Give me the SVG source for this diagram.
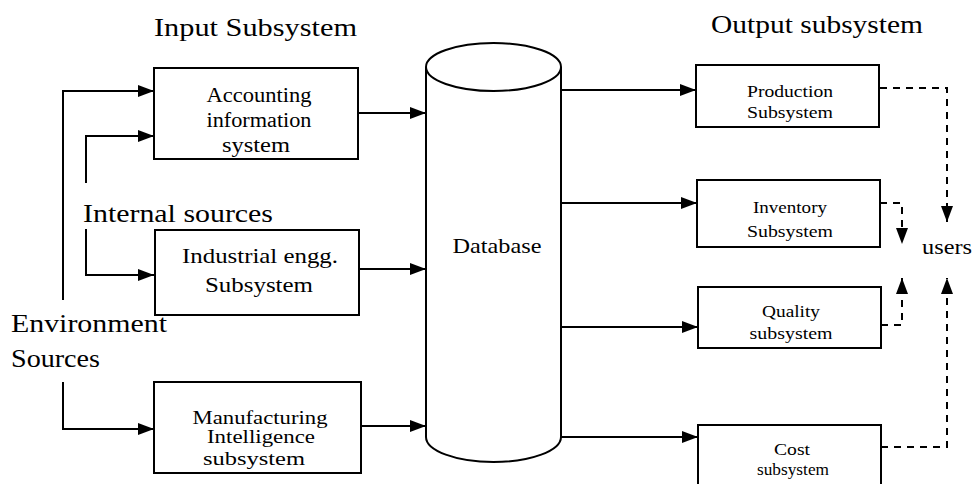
<svg xmlns="http://www.w3.org/2000/svg" width="976" height="484" viewBox="0 0 976 484">
<style>
  text { font-family: "Liberation Serif", "Times New Roman", serif; fill: #000; }
  .title { font-size: 26px; }
  .big { font-size: 22px; }
  .mid { font-size: 20px; }
  .sm { font-size: 18px; }
  .xs { font-size: 17px; }
  .box { fill: #fff; stroke: #000; stroke-width: 2; }
  .ln { fill: none; stroke: #000; stroke-width: 2; }
  .dash { fill: none; stroke: #000; stroke-width: 2; stroke-dasharray: 7 6; }
  .c { text-anchor: middle; }
</style>
<defs>
  <marker id="ah" viewBox="0 0 16 12" refX="16" refY="6" markerWidth="16" markerHeight="12" markerUnits="userSpaceOnUse" orient="auto">
    <path d="M0,0 L16,6 L0,12 Z" fill="#000"/>
  </marker>
</defs>
<rect width="976" height="484" fill="#fff"/>

<text class="title" x="154" y="36" textLength="203" lengthAdjust="spacingAndGlyphs">Input Subsystem</text>
<text class="title" x="711" y="33" textLength="212" lengthAdjust="spacingAndGlyphs">Output subsystem</text>
<text class="title" x="83" y="222" textLength="190" lengthAdjust="spacingAndGlyphs">Internal sources</text>
<text class="title" x="11" y="332" textLength="156" lengthAdjust="spacingAndGlyphs">Environment</text>
<text class="title" x="11" y="367" textLength="89" lengthAdjust="spacingAndGlyphs">Sources</text>

<g id="connectors">
  <path class="ln" d="M63,300 V91 H154" marker-end="url(#ah)"/>
  <path class="ln" d="M63,382 V429 H154" marker-end="url(#ah)"/>
  <path class="ln" d="M86,183 V136 H154" marker-end="url(#ah)"/>
  <path class="ln" d="M86,229 V275 H154" marker-end="url(#ah)"/>
  <path class="ln" d="M358,113 H426" marker-end="url(#ah)"/>
  <path class="ln" d="M359,269 H426" marker-end="url(#ah)"/>
  <path class="ln" d="M361,426 H426" marker-end="url(#ah)"/>
  <path class="ln" d="M561,90 H696" marker-end="url(#ah)"/>
  <path class="ln" d="M561,203 H697" marker-end="url(#ah)"/>
  <path class="ln" d="M561,327 H698" marker-end="url(#ah)"/>
  <path class="ln" d="M561,437 H698" marker-end="url(#ah)"/>
  <path class="dash" d="M880,88 H947 V222" marker-end="url(#ah)"/>
  <path class="dash" d="M880,203 H902 V244" marker-end="url(#ah)"/>
  <path class="dash" d="M881,325 H902 V278" marker-end="url(#ah)"/>
  <path class="dash" d="M881,447 H947 V278" marker-end="url(#ah)"/>
</g>

<g id="accounting">
  <rect class="box" x="154" y="68" width="204" height="91"/>
  <text class="mid c" x="259" y="102" textLength="105" lengthAdjust="spacingAndGlyphs">Accounting</text>
  <text class="mid c" x="259" y="127" textLength="105" lengthAdjust="spacingAndGlyphs">information</text>
  <text class="mid c" x="256" y="152" textLength="68" lengthAdjust="spacingAndGlyphs">system</text>
</g>

<g id="industrial">
  <rect class="box" x="155" y="230" width="204" height="85"/>
  <text class="big c" x="260" y="263" textLength="156" lengthAdjust="spacingAndGlyphs">Industrial engg.</text>
  <text class="big c" x="259" y="292" textLength="108" lengthAdjust="spacingAndGlyphs">Subsystem</text>
</g>

<g id="manufacturing">
  <rect class="box" x="154" y="382" width="207" height="91"/>
  <text class="sm c" x="260" y="424" textLength="135" lengthAdjust="spacingAndGlyphs">Manufacturing</text>
  <text class="sm c" x="261" y="443" textLength="108" lengthAdjust="spacingAndGlyphs">Intelligence</text>
  <text class="sm c" x="254" y="465" textLength="102" lengthAdjust="spacingAndGlyphs">subsystem</text>
</g>

<g id="database">
  <path class="box" d="M426,67 V437 A67.5,25 0 0 0 561,437 V67"/>
  <ellipse class="box" cx="493.5" cy="67" rx="67.5" ry="24"/>
  <text class="big c" x="497" y="253" textLength="89" lengthAdjust="spacingAndGlyphs">Database</text>
</g>

<g id="production">
  <rect class="box" x="696" y="65" width="183" height="62"/>
  <text class="xs c" x="790" y="97" textLength="86" lengthAdjust="spacingAndGlyphs">Production</text>
  <text class="xs c" x="790" y="118" textLength="86" lengthAdjust="spacingAndGlyphs">Subsystem</text>
</g>

<g id="inventory">
  <rect class="box" x="697" y="180" width="183" height="67"/>
  <text class="xs c" x="790" y="213" textLength="74" lengthAdjust="spacingAndGlyphs">Inventory</text>
  <text class="xs c" x="790" y="237" textLength="86" lengthAdjust="spacingAndGlyphs">Subsystem</text>
</g>

<g id="quality">
  <rect class="box" x="698" y="287" width="183" height="61"/>
  <text class="xs c" x="791" y="317" textLength="58" lengthAdjust="spacingAndGlyphs">Quality</text>
  <text class="xs c" x="791" y="339" textLength="83" lengthAdjust="spacingAndGlyphs">subsystem</text>
</g>

<g id="cost">
  <rect class="box" x="698" y="425" width="183" height="70"/>
  <text class="xs c" x="792" y="455" textLength="36" lengthAdjust="spacingAndGlyphs">Cost</text>
  <text class="xs c" x="793" y="475" textLength="72" lengthAdjust="spacingAndGlyphs">subsystem</text>
</g>

<g id="users">
  <text class="big" x="922" y="254" textLength="50" lengthAdjust="spacingAndGlyphs">users</text>
</g>
</svg>
